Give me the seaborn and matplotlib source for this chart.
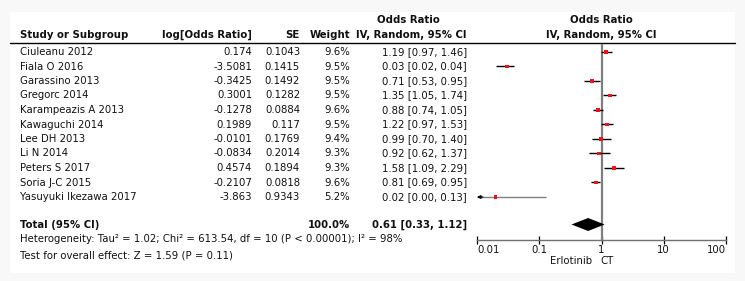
import numpy as np
import pandas as pd
import matplotlib
matplotlib.use("Agg")
import matplotlib.pyplot as plt
from matplotlib.patches import Rectangle
import seaborn as sns

# ---------------- data ----------------
studies = ["Ciuleanu 2012", "Fiala O 2016", "Garassino 2013", "Gregorc 2014",
           "Karampeazis A 2013", "Kawaguchi 2014", "Lee DH 2013", "Li N 2014",
           "Peters S 2017", "Soria J-C 2015", "Yasuyuki Ikezawa 2017"]
log_or_txt = ["0.174", "-3.5081", "-0.3425", "0.3001", "-0.1278", "0.1989",
              "-0.0101", "-0.0834", "0.4574", "-0.2107", "-3.863"]
se_txt = ["0.1043", "0.1415", "0.1492", "0.1282", "0.0884", "0.117",
          "0.1769", "0.2014", "0.1894", "0.0818", "0.9343"]
weights = [9.6, 9.5, 9.5, 9.5, 9.6, 9.5, 9.4, 9.3, 9.3, 9.6, 5.2]
odds_ratio = [1.19, 0.03, 0.71, 1.35, 0.88, 1.22, 0.99, 0.92, 1.58, 0.81, 0.02]
ci_low = [0.97, 0.02, 0.53, 1.05, 0.74, 0.97, 0.70, 0.62, 1.09, 0.69, 0.00]
ci_high = [1.46, 0.04, 0.95, 1.74, 1.05, 1.53, 1.40, 1.37, 2.29, 0.95, 0.13]
total_or, total_low, total_high = 0.61, 0.33, 1.12
total_weight = "100.0%"
heterogeneity = "Heterogeneity: Tau\u00b2 = 1.02; Chi\u00b2 = 613.54, df = 10 (P < 0.00001); I\u00b2 = 98%"
overall_test = "Test for overall effect: Z = 1.59 (P = 0.11)"
tick_values = [0.01, 0.1, 1, 10, 100]
tick_labels = ["0.01", "0.1", "1", "10", "100"]
favours_left, favours_right = "Erlotinib", "CT"

# ---------------- layout (pixels) ----------------
W, H = 745, 281
row0, row_step = 52.0, 14.5
row_y = [row0 + i * row_step for i in range(len(studies))]
total_y = 224.5
FS = 7.3
TXT = "#111111"

sns.set_theme(style="white")
plt.rcParams["font.family"] = ["DejaVu Sans"]

fig = plt.figure(figsize=(W / 100, H / 100), dpi=100, facecolor="#f8f8f8")
bg = fig.add_axes([0, 0, 1, 1])
bg.set_xlim(0, W)
bg.set_ylim(H, 0)
bg.axis("off")
bg.add_patch(Rectangle((10, 12), 725, 261, facecolor="white", edgecolor="none"))

# header
bold = dict(fontsize=FS, fontweight="bold", color=TXT, va="center")
norm = dict(fontsize=FS, color=TXT, va="center")
bg.text(408, 20, "Odds Ratio", ha="center", **bold)
bg.text(601, 20, "Odds Ratio", ha="center", **bold)
bg.text(20, 35, "Study or Subgroup", ha="left", **bold)
bg.text(252, 35, "log[Odds Ratio]", ha="right", **bold)
bg.text(300, 35, "SE", ha="right", **bold)
bg.text(350, 35, "Weight", ha="right", **bold)
bg.text(467, 35, "IV, Random, 95% CI", ha="right", **bold)
bg.text(601, 35, "IV, Random, 95% CI", ha="center", **bold)
bg.plot([10, 735], [42.5, 42.5], color="black", lw=1.0)

for y, s, lo_t, se_t, w, o, l, h in zip(row_y, studies, log_or_txt, se_txt,
                                        weights, odds_ratio, ci_low, ci_high):
    bg.text(20, y, s, ha="left", **norm)
    bg.text(252, y, lo_t, ha="right", **norm)
    bg.text(300, y, se_t, ha="right", **norm)
    bg.text(350, y, f"{w:.1f}%", ha="right", **norm)
    bg.text(467, y, f"{o:.2f} [{l:.2f}, {h:.2f}]", ha="right", **norm)

bg.text(20, total_y, "Total (95% CI)", ha="left", **bold)
bg.text(350, total_y, total_weight, ha="right", **bold)
bg.text(467, total_y, f"{total_or:.2f} [{total_low:.2f}, {total_high:.2f}]", ha="right", **bold)
bg.text(20, 238.5, heterogeneity, ha="left", **norm)
bg.text(20, 255, overall_test, ha="left", **norm)

# ---------------- forest axes ----------------
x0, x1 = 477, 726
y_top, y_axis = 44, 239.5
ax = fig.add_axes([x0 / W, (H - y_axis) / H, (x1 - x0) / W, (y_axis - y_top) / H])
ax.set_facecolor("none")
ax.set_xscale("log")
xmin, xmax = tick_values[0], tick_values[-1]
ax.set_xlim(xmin, xmax)
ax.set_ylim(y_axis, y_top)

df = pd.DataFrame({"study": studies, "or": odds_ratio, "lo": ci_low,
                   "hi": ci_high, "w": weights, "y": row_y})

# null line
ax.axvline(1, color="#7f7f7f", lw=1.6, zorder=1)

# CI lines
for _, r in df.iterrows():
    lo = max(r["lo"], xmin)
    clipped = r["lo"] < xmin
    ax.hlines(r["y"], lo, r["hi"], color="#808080" if clipped else "black",
              lw=1.0, zorder=2, clip_on=False)
    if clipped:
        ax.annotate("", xy=(xmin, r["y"]), xytext=(xmin * 1.25, r["y"]),
                    arrowprops=dict(arrowstyle="-|>", color="black", lw=0.8,
                                    mutation_scale=5, shrinkA=0, shrinkB=0),
                    annotation_clip=False)

sns.scatterplot(data=df, x="or", y="y", marker="s", color="#e8141c",
                size="w", sizes=(6, 8), edgecolor="none", legend=False,
                ax=ax, zorder=3, clip_on=False)

# diamond
dh = 6.5
ax.fill([total_low, total_or, total_high, total_or],
        [total_y, total_y - dh, total_y, total_y + dh],
        color="black", zorder=4, lw=0)

# axis styling
for sp in ["top", "right", "left"]:
    ax.spines[sp].set_visible(False)
ax.spines["bottom"].set_color("#707070")
ax.spines["bottom"].set_linewidth(1.0)
ax.set_yticks([])
ax.set_xticks(tick_values)
ax.set_xticklabels(tick_labels)
ax.minorticks_off()
ax.tick_params(axis="x", which="major", direction="inout", length=6, width=0.9,
               color="black", labelsize=FS, labelcolor=TXT, pad=0.8, bottom=True)
labs = ax.get_xticklabels()
labs[0].set_ha("left")
labs[-1].set_ha("right")
ax.set_xlabel("")
ax.set_ylabel("")

bg.text(592, 261, favours_left, ha="right", **norm)
bg.text(600, 261, favours_right, ha="left", **norm)

fig.savefig("out.png", dpi=100, facecolor=fig.get_facecolor())
